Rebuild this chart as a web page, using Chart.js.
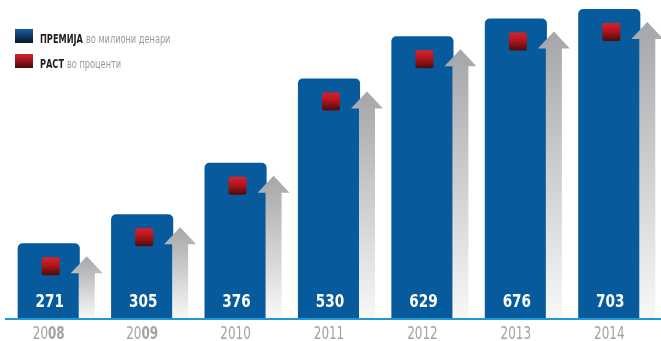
<!DOCTYPE html>
<html>
<head>
<meta charset="utf-8">
<script src="https://cdn.jsdelivr.net/npm/chart.js@4.4.1/dist/chart.umd.min.js"></script>
<style>
  html, body { margin: 0; padding: 0; background: #fff; }
  #wrap { width: 661px; height: 341px; position: relative; }
</style>
</head>
<body>
<div id="wrap"><canvas id="premChart"></canvas></div>
<script>
// Data
const years = ['2008', '2009', '2010', '2011', '2012', '2013', '2014'];
const premiums = [271, 305, 376, 530, 629, 676, 703];
const legendItems = [
    { bold: 'ПРЕМИЈА', light: 'во милиони денари', top: '#1160a6', bottom: '#0a1626' },
    { bold: 'РАСТ', light: 'во проценти', top: '#dc2129', bottom: '#4a0808' }
];

const NARROW = '"Liberation Sans Narrow", "DejaVu Sans Condensed", sans-serif';

// draw text squeezed horizontally (the original uses a condensed face)
function squeezed(ctx, text, x, y, sx) {
    ctx.save();
    ctx.translate(x, y);
    ctx.scale(sx, 1);
    ctx.fillText(text, 0, 0);
    ctx.restore();
}

// Arrows, red squares, value labels, baseline, year labels and legend
const decorPlugin = {
    id: 'decor',
    afterDatasetsDraw(chart) {
        const ctx = chart.ctx;
        const meta = chart.getDatasetMeta(0);
        const base = chart.scales.y.bottom;
        ctx.save();
        meta.data.forEach((bar, i) => {
            // grey arrow to the right of the bar
            const ax = bar.x + 38;
            const tip = bar.y + 13;
            const g = ctx.createLinearGradient(0, tip, 0, base);
            g.addColorStop(0, '#a4a6a9');
            g.addColorStop(1, '#f8f8f8');
            ctx.fillStyle = g;
            ctx.beginPath();
            ctx.moveTo(ax, tip);
            ctx.lineTo(ax + 16, tip + 17);
            ctx.lineTo(ax + 8, tip + 17);
            ctx.lineTo(ax + 8, base);
            ctx.lineTo(ax - 8, base);
            ctx.lineTo(ax - 8, tip + 17);
            ctx.lineTo(ax - 16, tip + 17);
            ctx.closePath();
            ctx.fill();

            // red square inside the bar
            const sx = bar.x - 7, sy = bar.y + 14;
            const rg = ctx.createLinearGradient(0, sy, 0, sy + 18);
            rg.addColorStop(0, '#d9222b');
            rg.addColorStop(0.45, '#b0161d');
            rg.addColorStop(1, '#4e0a0a');
            ctx.fillStyle = rg;
            ctx.beginPath();
            ctx.roundRect(sx, sy, 18, 18, 2);
            ctx.fill();

            // value label
            ctx.fillStyle = '#ffffff';
            ctx.font = 'bold 18px ' + NARROW;
            ctx.textAlign = 'center';
            ctx.textBaseline = 'middle';
            squeezed(ctx, String(premiums[i]), bar.x + 1, 302, 0.84);
        });

        // baseline
        ctx.fillStyle = '#1f98d6';
        ctx.fillRect(5, base, chart.width - 5, 2);

        // year labels from the category axis
        const xs = chart.scales.x;
        ctx.fillStyle = '#a3a3a3';
        ctx.textBaseline = 'alphabetic';
        xs.ticks.forEach((t, i) => {
            const label = xs.getLabelForValue(t.value);
            const x = xs.getPixelForTick(i);
            const sc = 0.74;
            if (i < 2) {
                // first two years: century light, year digits bold
                ctx.font = '18px ' + NARROW;
                const w1 = ctx.measureText(label.slice(0, 2)).width * sc;
                ctx.font = 'bold 18px ' + NARROW;
                const w2 = ctx.measureText(label.slice(2)).width * sc;
                const left = x - (w1 + w2) / 2;
                ctx.textAlign = 'left';
                ctx.font = '18px ' + NARROW;
                squeezed(ctx, label.slice(0, 2), left, 339, sc);
                ctx.font = 'bold 18px ' + NARROW;
                squeezed(ctx, label.slice(2), left + w1, 339, sc);
            } else {
                ctx.textAlign = 'center';
                ctx.font = '18px ' + NARROW;
                squeezed(ctx, label, x, 339, sc);
            }
        });
        ctx.restore();
    },
    afterDraw(chart) {
        const ctx = chart.ctx;
        ctx.save();
        legendItems.forEach((item, i) => {
            const y = 29 + i * 25;
            const g = ctx.createLinearGradient(0, y, 0, y + 14);
            g.addColorStop(0, item.top);
            g.addColorStop(1, item.bottom);
            ctx.fillStyle = g;
            ctx.fillRect(15, y, 18, 14);

            const sc = 0.76;
            ctx.textBaseline = 'alphabetic';
            ctx.textAlign = 'left';
            ctx.font = 'bold 12px ' + NARROW;
            ctx.fillStyle = '#1d1d1d';
            squeezed(ctx, item.bold, 40, y + 14, sc);
            const w = ctx.measureText(item.bold).width * sc;
            ctx.font = '12px ' + NARROW;
            ctx.fillStyle = '#9a9a9a';
            squeezed(ctx, item.light, 40 + w + 3, y + 14, sc);
        });
        ctx.restore();
    }
};

const premCtx = document.getElementById('premChart').getContext('2d');
const premChart = new Chart(premCtx, {
    type: 'bar',
    data: {
        labels: years,
        datasets: [{
            label: 'ПРЕМИЈА во милиони денари',
            data: premiums,
            backgroundColor: '#075b9d',
            borderWidth: 0,
            borderSkipped: 'bottom',
            borderRadius: { topLeft: 5, topRight: 5, bottomLeft: 0, bottomRight: 0 },
            barPercentage: 1,
            categoryPercentage: 0.665
        }]
    },
    options: {
        responsive: true,
        maintainAspectRatio: false,
        animation: false,
        layout: { padding: { left: 2, right: 5, top: 0, bottom: 23 } },
        plugins: {
            legend: { display: false },
            tooltip: { enabled: false }
        },
        scales: {
            x: {
                grid: { display: false, drawTicks: false },
                border: { display: false },
                ticks: { display: false }
            },
            y: {
                type: 'logarithmic',
                display: false,
                min: 200,
                max: 729
            }
        }
    },
    plugins: [decorPlugin]
});
</script>
</body>
</html>
